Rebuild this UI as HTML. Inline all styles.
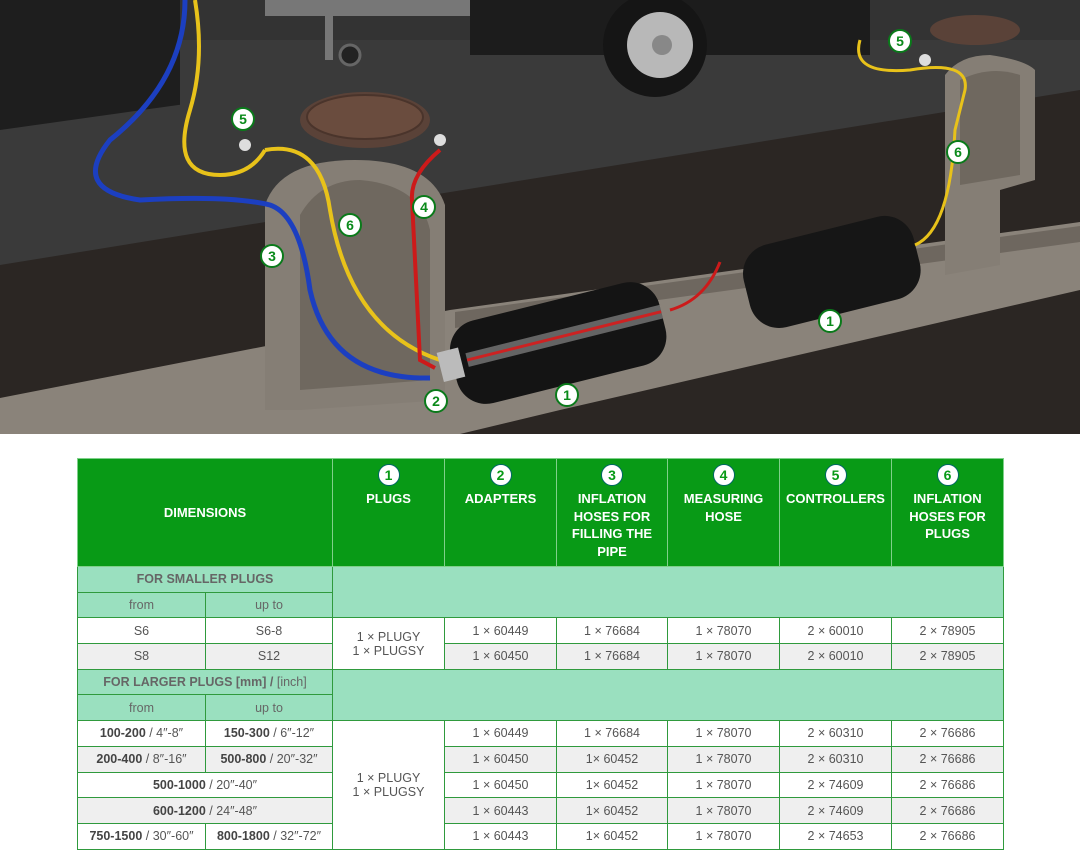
<!DOCTYPE html>
<html><head><meta charset="utf-8"><style>
body{margin:0;width:1080px;height:868px;background:#fff;position:relative;overflow:hidden;font-family:"Liberation Sans",sans-serif}
svg.pic{position:absolute;left:0;top:0}
table{position:absolute;left:77px;top:458px;border-collapse:collapse;table-layout:fixed;width:926px}
td{border:1px solid #2f9a3d;text-align:center;font-size:12.5px;color:#555;padding:0;height:24.7px;line-height:14px}
tr.h td{background:#089a16;color:#fff;font-weight:bold;font-size:13px;height:107px;vertical-align:top;border-color:#7fd08a;line-height:17.5px}
tr.h td.d{vertical-align:middle}
.n{display:block;width:20px;height:20px;border-radius:50%;background:#fff;color:#089a16;border:1px solid #066;margin:5px auto 4px;line-height:20px;font-size:14px}
td.g{background:#9ae0bf;color:#666}
td.gb{background:#9ae0bf;color:#666;font-weight:bold}
tr.a td{background:#efefef}
tr.a td.w,td.w{background:#fff}
b{color:#444}
</style></head><body>
<svg class="pic" width="1080" height="434" viewBox="0 0 1080 434">
<rect width="1080" height="434" fill="#3a3a3a"/>
<polygon points="0,0 1080,0 1080,40 0,40" fill="#333"/>
<polygon points="0,265 1080,90 1080,434 0,434" fill="#2b2623"/>
<polygon points="0,398 450,310 1080,222 1080,290 560,410 460,434 0,434" fill="#8a837a"/>
<polygon points="455,312 1080,226 1080,242 455,328" fill="#6e675f"/>
<path d="M265,205 Q280,160 355,160 Q430,160 445,205 L445,310 L445,400 L300,410 L265,410 Z" fill="#857e75"/>
<path d="M300,215 Q320,180 360,180 Q420,185 430,230 L430,380 L300,390 Z" fill="#6f685f"/>
<path d="M945,75 Q960,55 990,55 Q1025,60 1035,70 L1035,180 L1000,190 L1000,265 L945,275 Z" fill="#857e75"/>
<path d="M960,80 Q990,65 1020,75 L1020,175 L960,185 Z" fill="#6f685f"/>
<ellipse cx="365" cy="120" rx="65" ry="28" fill="#5a4238"/>
<ellipse cx="365" cy="117" rx="58" ry="22" fill="#6a4c3e" stroke="#4a342b" stroke-width="2"/>
<ellipse cx="975" cy="30" rx="45" ry="15" fill="#5a4238"/>
<rect x="0" y="0" width="180" height="130" fill="#1e1e1e" transform="skewY(-8)"/>
<rect x="470" y="0" width="400" height="55" fill="#1c1c1c"/>
<rect x="265" y="0" width="205" height="16" fill="#777"/>
<rect x="325" y="10" width="8" height="50" fill="#777"/>
<circle cx="350" cy="55" r="10" fill="#222" stroke="#666" stroke-width="3"/>
<circle cx="655" cy="45" r="52" fill="#151515"/>
<circle cx="660" cy="45" r="33" fill="#b8b8b8"/>
<circle cx="662" cy="45" r="10" fill="#888"/>
<g transform="rotate(-14 560 340)"><rect x="450" y="300" width="215" height="85" rx="30" fill="#141414"/><rect x="465" y="330" width="200" height="14" fill="#999" opacity=".6"/><line x1="465" y1="337" x2="665" y2="337" stroke="#c22" stroke-width="3"/></g>
<g transform="rotate(-14 830 275)"><rect x="745" y="230" width="175" height="85" rx="30" fill="#161616"/></g>
<path d="M195,0 Q205,60 190,110 Q170,175 220,175 Q250,175 265,150" stroke="#e8c21a" stroke-width="4" fill="none"/>
<path d="M265,150 Q320,140 330,210 Q350,330 440,360" stroke="#e8c21a" stroke-width="4" fill="none"/>
<path d="M185,0 Q185,80 110,140 Q70,190 140,200 Q230,195 270,205 Q300,215 310,290 Q330,380 430,378" stroke="#1c3fc0" stroke-width="5" fill="none"/>
<path d="M440,150 Q410,175 412,200 L420,360 L435,368" stroke="#cc1a1a" stroke-width="4" fill="none"/>
<path d="M670,310 Q705,300 720,262" stroke="#cc1a1a" stroke-width="3" fill="none"/>
<path d="M860,40 Q850,75 910,70 Q970,60 965,90 L955,130 Q950,230 915,245" stroke="#e8c21a" stroke-width="3" fill="none"/>
<circle cx="245" cy="145" r="6" fill="#ddd"/><circle cx="440" cy="140" r="6" fill="#ddd"/><circle cx="925" cy="60" r="6" fill="#ddd"/>
<rect x="440" y="350" width="22" height="30" fill="#bbb" transform="rotate(-14 450 365)"/>
<g font-family="Liberation Sans" font-weight="bold" font-size="14" fill="#0a8a1a" text-anchor="middle">
<g stroke="#0a7a1a" stroke-width="2" fill="#fff">
<circle cx="243" cy="119" r="11"/><circle cx="424" cy="207" r="11"/><circle cx="350" cy="225" r="11"/><circle cx="272" cy="256" r="11"/>
<circle cx="436" cy="401" r="11"/><circle cx="567" cy="395" r="11"/><circle cx="830" cy="321" r="11"/><circle cx="958" cy="152" r="11"/><circle cx="900" cy="41" r="11"/></g>
<text x="243" y="124">5</text><text x="424" y="212">4</text><text x="350" y="230">6</text><text x="272" y="261">3</text>
<text x="436" y="406">2</text><text x="567" y="400">1</text><text x="830" y="326">1</text><text x="958" y="157">6</text><text x="900" y="46">5</text>
</g>
</svg>
<table>
<colgroup><col style="width:128px"><col style="width:127px"><col style="width:112px"><col style="width:112px"><col style="width:111px"><col style="width:112px"><col style="width:112px"><col style="width:112px"></colgroup>
<tr class="h"><td colspan="2" class="d">DIMENSIONS</td><td><span class="n">1</span>PLUGS</td><td><span class="n">2</span>ADAPTERS</td><td><span class="n">3</span>INFLATION HOSES FOR FILLING THE PIPE</td><td><span class="n">4</span>MEASURING HOSE</td><td><span class="n">5</span>CONTROLLERS</td><td><span class="n">6</span>INFLATION HOSES FOR PLUGS</td></tr>
<tr><td colspan="2" class="gb">FOR SMALLER PLUGS</td><td colspan="6" rowspan="2" class="g"></td></tr>
<tr><td class="g">from</td><td class="g">up to</td></tr>
<tr><td>S6</td><td>S6-8</td><td rowspan="2" class="w">1 × PLUGY<br>1 × PLUGSY</td><td>1 × 60449</td><td>1 × 76684</td><td>1 × 78070</td><td>2 × 60010</td><td>2 × 78905</td></tr>
<tr class="a"><td>S8</td><td>S12</td><td>1 × 60450</td><td>1 × 76684</td><td>1 × 78070</td><td>2 × 60010</td><td>2 × 78905</td></tr>
<tr><td colspan="2" class="gb">FOR LARGER PLUGS [mm] / <span style="font-weight:normal">[inch]</span></td><td colspan="6" rowspan="2" class="g"></td></tr>
<tr><td class="g">from</td><td class="g">up to</td></tr>
<tr><td><b>100-200</b> / 4″-8″</td><td><b>150-300</b> / 6″-12″</td><td rowspan="5" class="w">1 × PLUGY<br>1 × PLUGSY</td><td>1 × 60449</td><td>1 × 76684</td><td>1 × 78070</td><td>2 × 60310</td><td>2 × 76686</td></tr>
<tr class="a"><td><b>200-400</b> / 8″-16″</td><td><b>500-800</b> / 20″-32″</td><td>1 × 60450</td><td>1× 60452</td><td>1 × 78070</td><td>2 × 60310</td><td>2 × 76686</td></tr>
<tr><td colspan="2"><b>500-1000</b> / 20″-40″</td><td>1 × 60450</td><td>1× 60452</td><td>1 × 78070</td><td>2 × 74609</td><td>2 × 76686</td></tr>
<tr class="a"><td colspan="2"><b>600-1200</b> / 24″-48″</td><td>1 × 60443</td><td>1× 60452</td><td>1 × 78070</td><td>2 × 74609</td><td>2 × 76686</td></tr>
<tr><td><b>750-1500</b> / 30″-60″</td><td><b>800-1800</b> / 32″-72″</td><td>1 × 60443</td><td>1× 60452</td><td>1 × 78070</td><td>2 × 74653</td><td>2 × 76686</td></tr>
</table>
</body></html>
